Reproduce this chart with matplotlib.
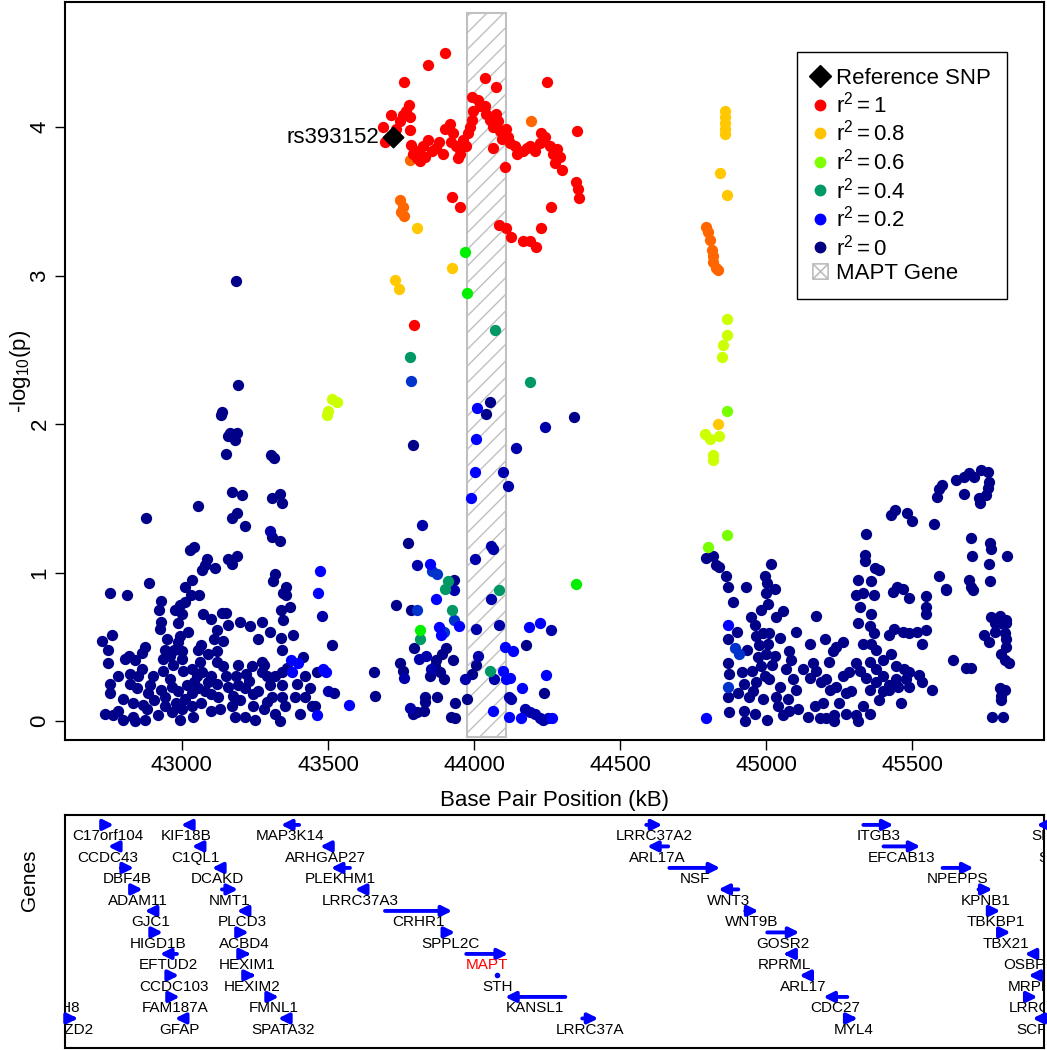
import matplotlib
matplotlib.use("Agg")
import matplotlib.pyplot as plt
from matplotlib.lines import Line2D
from matplotlib.path import Path
from matplotlib.patches import Rectangle

plt.rcParams["font.family"] = ["Liberation Sans", "DejaVu Sans"]
plt.rcParams["mathtext.fontset"] = "custom"
plt.rcParams["mathtext.rm"] = "Liberation Sans"
plt.rcParams["mathtext.it"] = "Liberation Sans:italic"
plt.rcParams["hatch.linewidth"] = 1.0

# ---- SNPs: (position kB, -log10 p) grouped by LD colour ----
NAVY = [
    (43185, 2.96), (43193, 2.26), (43136, 2.08), (43133, 2.06), (43164, 1.94), (43187, 1.94),
    (43158, 1.92), (43181, 1.89), (43150, 1.80), (43304, 1.79), (43315, 1.77), (43170, 1.54),
    (43204, 1.52), (43309, 1.50), (43335, 1.53), (43342, 1.47), (43056, 1.45), (42876, 1.37),
    (43187, 1.40), (43170, 1.37), (43215, 1.31), (43307, 1.24), (43336, 1.21), (43027, 1.15),
    (43041, 1.17), (43087, 1.09), (43158, 1.09), (43188, 1.11),
    (43079, 1.05), (43113, 1.03), (43070, 1.02), (43170, 1.06), (43320, 0.99), (43312, 0.94),
    (43357, 0.90), (43346, 0.86), (43357, 0.85), (42754, 0.86), (42813, 0.85), (42887, 0.93),
    (43035, 0.95), (43010, 0.90), (43031, 0.85), (43059, 0.85), (42928, 0.81), (42993, 0.78),
    (43010, 0.80), (42921, 0.75), (42976, 0.75), (42999, 0.72), (43071, 0.72), (43101, 0.69),
    (43136, 0.73), (43150, 0.73), (43339, 0.75), (43369, 0.77), (43346, 0.68), (42930, 0.67),
    (42987, 0.66), (42925, 0.62), (43158, 0.65), (43198, 0.67), (43233, 0.64), (43275, 0.67),
    (43121, 0.61), (42760, 0.58), (42727, 0.54), (42746, 0.48), (42993, 0.57), (42987, 0.53),
    (43141, 0.54), (43339, 0.56), (43515, 0.51), (43065, 0.51), (43056, 0.48), (42873, 0.50),
    (42862, 0.46), (42942, 0.48), (42974, 0.48), (42999, 0.47), (43119, 0.47), (43341, 0.48),
    (42819, 0.44), (42804, 0.42), (42839, 0.41), (42746, 0.39), (42936, 0.42), (42959, 0.44),
    (43062, 0.40), (43119, 0.40), (43415, 0.43), (43273, 0.40), (43281, 0.38), (42862, 0.35),
    (42824, 0.32), (42936, 0.34), (43005, 0.34), (43033, 0.35), (43101, 0.30), (43141, 0.37),
    (43193, 0.38), (43221, 0.32), (43273, 0.33), (43343, 0.33), (43461, 0.33), (42754, 0.25),
    (42754, 0.19), (42822, 0.25), (42845, 0.22), (42891, 0.24), (42885, 0.19), (42930, 0.21),
    (42942, 0.16), (42965, 0.23), (42987, 0.20), (43016, 0.24), (43033, 0.19), (43056, 0.22),
    (43079, 0.20), (43101, 0.18), (43124, 0.16), (43158, 0.23), (43193, 0.24), (43215, 0.22),
    (43244, 0.18), (43301, 0.24), (43341, 0.24), (43307, 0.16), (43341, 0.16), (43386, 0.16),
    (43421, 0.16), (43438, 0.22), (43455, 0.10), (43521, 0.19), (42737, 0.05), (42765, 0.04),
    (42782, 0.07), (42799, 0.01), (42834, 0.03), (42839, 0.00), (42873, 0.01), (42834, 0.12),
    (42868, 0.11), (42919, 0.04), (42942, 0.10), (42965, 0.06), (42993, 0.01), (43033, 0.10),
    (43039, 0.03), (43067, 0.12), (43170, 0.10), (43181, 0.03), (43215, 0.03), (43250, 0.01),
    (43244, 0.10), (43290, 0.13), (43318, 0.05), (43335, 0.00), (43352, 0.10), (43404, 0.05),
    (43444, 0.10), (42960, 0.28), (42980, 0.12), (43010, 0.15), (43050, 0.30), (43090, 0.26),
    (43130, 0.08), (43150, 0.30), (43200, 0.14), (43230, 0.27), (43260, 0.20), (43280, 0.08),
    (43320, 0.30), (43360, 0.36), (42900, 0.30), (42880, 0.08), (42800, 0.15), (42780, 0.30),
    (42950, 0.55), (43020, 0.60), (43090, 0.45), (43110, 0.55), (43260, 0.55), (43300, 0.60),
    (43380, 0.58), (43420, 0.30), (42970, 0.38), (43000, 0.42), (43040, 0.26), (43070, 0.33),
    (43120, 0.25), (43175, 0.17), (43185, 0.30), (43240, 0.37), (42905, 0.14), (42850, 0.30),
    (43290, 0.30), (43395, 0.25), (43000, 0.08), (43100, 0.07),
    # middle
    (44056, 2.15), (44042, 2.07), (44341, 2.05), (43790, 1.86), (43774, 1.20), (43931, 0.95),
    (43734, 0.78), (43783, 0.75), (43793, 0.49), (43905, 0.49), (43891, 0.45), (43928, 0.41),
    (43746, 0.39), (43757, 0.34), (43657, 0.33), (43871, 0.41), (43865, 0.37), (43882, 0.33),
    (43848, 0.30), (43896, 0.28), (44178, 0.51), (44005, 0.38), (43993, 0.32), (44239, 0.19),
    (43662, 0.17), (43831, 0.16), (43873, 0.16), (43831, 0.13), (43975, 0.15), (43936, 0.12),
    (43791, 0.05), (43828, 0.07), (43803, 0.06), (43922, 0.03), (43934, 0.02),
    # right
    (44792, 1.10), (44817, 1.11), (44829, 1.05), (44837, 1.04), (44862, 0.98), (44868, 0.90),
    (45016, 1.06), (44995, 0.98), (45002, 0.93), (45028, 0.89), (45342, 1.26), (45338, 1.12),
    (45339, 1.08), (45372, 1.03), (45387, 1.02), (45313, 0.95), (45358, 0.94), (45425, 1.39),
    (45441, 1.42), (45481, 1.40), (45499, 1.35), (45575, 1.33), (45583, 1.51), (45590, 1.56),
    (45600, 1.59), (45649, 1.62), (45678, 1.64), (45695, 1.67), (45712, 1.64), (45675, 1.53),
    (45735, 1.69), (45758, 1.68), (45763, 1.61), (45758, 1.57), (45752, 1.52), (45727, 1.50),
    (45732, 1.47), (45701, 1.23), (45767, 1.20), (45769, 1.16), (45703, 1.11), (45823, 1.11),
    (45763, 1.06), (45590, 0.98), (45694, 0.95), (45701, 0.90), (45767, 0.94), (45615, 0.89),
    (45446, 0.90), (45469, 0.89),
    (44868, 0.55), (44868, 0.39), (44872, 0.32), (44868, 0.16), (44872, 0.06), (44946, 0.70),
    (44960, 0.65), (44983, 0.75), (45006, 0.79), (45000, 0.86), (45032, 0.70), (45057, 0.74),
    (44965, 0.57), (44988, 0.59), (45010, 0.59), (45045, 0.56), (44976, 0.51), (45005, 0.52),
    (44970, 0.43), (45000, 0.45), (45028, 0.44), (45079, 0.47), (45100, 0.60), (44917, 0.33),
    (44951, 0.34), (44980, 0.37), (45020, 0.38), (45066, 0.35), (45083, 0.41), (44922, 0.25),
    (44965, 0.26), (45010, 0.28), (45045, 0.23), (45102, 0.21), (44902, 0.19), (44942, 0.16),
    (44988, 0.15), (45034, 0.16), (45074, 0.15), (44922, 0.07), (44962, 0.05), (44928, 0.00),
    (45002, 0.01), (45057, 0.04), (45079, 0.07), (45107, 0.08), (45171, 0.71), (45150, 0.52),
    (45201, 0.55), (45239, 0.50), (45262, 0.53), (45228, 0.47), (45159, 0.39), (45171, 0.34),
    (45188, 0.26), (45148, 0.29), (45205, 0.28), (45217, 0.21), (45239, 0.23), (45262, 0.30),
    (45273, 0.19), (45142, 0.03), (45165, 0.10), (45194, 0.12), (45182, 0.02), (45205, 0.02),
    (45233, 0.04), (45233, 0.00), (45273, 0.05), (45307, 0.04), (45330, 0.10), (45353, 0.05),
    (45313, 0.00), (45307, 0.85), (45319, 0.77), (45313, 0.66), (45358, 0.72), (45370, 0.85),
    (45330, 0.86), (45353, 0.64), (45370, 0.59), (45330, 0.52), (45358, 0.52), (45376, 0.48),
    (45307, 0.39), (45284, 0.33), (45319, 0.34), (45353, 0.40), (45376, 0.35), (45399, 0.41),
    (45342, 0.29), (45376, 0.26), (45399, 0.30), (45421, 0.24), (45444, 0.28), (45478, 0.28),
    (45353, 0.21), (45387, 0.14), (45421, 0.21), (45449, 0.23), (45489, 0.23), (45534, 0.26),
    (45568, 0.21), (45427, 0.45), (45444, 0.37), (45472, 0.35), (45489, 0.33), (45524, 0.31),
    (45421, 0.58), (45438, 0.62), (45469, 0.60), (45489, 0.59), (45517, 0.60), (45546, 0.61),
    (45534, 0.52), (45546, 0.72), (45546, 0.77), (45546, 0.84), (45489, 0.83), (45434, 0.87),
    (45615, 0.88), (45707, 0.88), (45638, 0.41), (45684, 0.36), (45701, 0.36), (45769, 0.70),
    (45798, 0.71), (45820, 0.68), (45781, 0.66), (45804, 0.66), (45821, 0.66), (45746, 0.58),
    (45763, 0.53), (45781, 0.60), (45815, 0.59), (45820, 0.55), (45821, 0.50), (45804, 0.45),
    (45815, 0.41), (45832, 0.39), (45798, 0.22), (45815, 0.21), (45804, 0.17), (45804, 0.14),
    (45772, 0.03), (45811, 0.03), (44900, 0.60), (44935, 0.48), (44955, 0.20), (44995, 0.30),
    (45040, 0.10), (45090, 0.28), (45125, 0.35), (45215, 0.40), (45250, 0.12), (45290, 0.20),
    (45400, 0.20), (45460, 0.12), (44885, 0.80), (44930, 0.90),
]
DARKBLUE = [
    (44244, 1.98), (44142, 1.84), (44100, 1.68), (44115, 1.58), (43823, 1.32), (44059, 1.18),
    (44065, 1.16), (44003, 1.09), (43803, 1.05), (43931, 0.88), (44059, 0.82), (44005, 0.62),
    (44084, 0.65), (44263, 0.61), (43837, 0.44), (43812, 0.42), (43759, 0.29), (43854, 0.35),
    (44013, 0.44), (43968, 0.28), (44068, 0.28), (44118, 0.16), (44127, 0.15), (43780, 0.09),
    (44173, 0.08), (44190, 0.06), (44207, 0.05), (44224, 0.02), (44236, 0.01), (44253, 0.02),
    (43478, 0.71), (43303, 1.28), (43500, 0.20),
]
BLUE = [
    (44009, 2.11), (44007, 1.90), (44003, 1.68), (43988, 1.50), (43848, 1.06), (43871, 0.82),
    (43947, 0.64), (43880, 0.63), (43888, 0.58), (44188, 0.63), (44224, 0.66), (44106, 0.50),
    (44133, 0.47), (44099, 0.34), (44110, 0.28), (44124, 0.29), (44247, 0.31), (44165, 0.22),
    (44066, 0.07), (44120, 0.03), (44161, 0.02), (44267, 0.02), (43472, 1.01), (43466, 0.86),
    (43372, 0.41), (43398, 0.39), (43378, 0.33), (43483, 0.35), (43494, 0.33), (43571, 0.11),
    (44868, 0.65), (44794, 0.02), (43461, 0.04),
]
MIDBLUE = [
    (43783, 2.29), (43857, 1.01), (43873, 0.99), (43806, 0.75), (43931, 0.68), (43896, 0.60),
    (44868, 0.23), (44891, 0.49), (44908, 0.45),
]
TEAL = [
    (44073, 2.63), (43782, 2.45), (44190, 2.28), (43911, 0.94), (43902, 0.89), (44085, 0.88),
    (43924, 0.75), (43814, 0.55), (44056, 0.34),
]
GREEN = [(43969, 3.16), (43975, 2.88), (44347, 0.92), (43814, 0.61)]
CHARTREUSE = [(44865, 1.25), (44800, 1.17), (44867, 2.09)]
LIME = [
    (43515, 2.17), (43531, 2.15), (43500, 2.09), (43498, 2.06), (44789, 1.93), (44808, 1.90),
    (44837, 1.92), (44819, 1.79), (44819, 1.76), (44864, 2.71), (44864, 2.60), (44853, 2.53),
    (44847, 2.45),
]
YELLOW = [
    (44860, 4.11), (44860, 4.07), (44860, 4.03), (44860, 3.99), (44857, 3.95), (44840, 3.69),
    (44867, 3.54), (44833, 2.00), (43805, 3.32), (43925, 3.05), (43729, 2.97), (43742, 2.91),
]
ORANGE = [
    (44792, 3.33), (44799, 3.29), (44806, 3.24), (44813, 3.17), (44816, 3.13), (44819, 3.09),
    (44826, 3.05), (44833, 3.04), (43780, 3.78), (44194, 4.04), (43748, 3.51), (43755, 3.46),
    (43760, 3.40), (43750, 3.43),
]
RED = [
    (43902, 4.50), (43841, 4.42), (43760, 4.30), (44037, 4.33), (44075, 4.27), (44250, 4.30),
    (43778, 4.15), (43768, 4.11), (43757, 4.08), (43714, 4.08), (43745, 4.04), (43780, 4.07),
    (43734, 3.99), (43689, 4.00), (43694, 3.90), (43780, 3.98), (43785, 3.88), (43791, 3.82),
    (43803, 3.79), (43814, 3.77), (43831, 3.80), (43825, 3.87), (43842, 3.91), (43857, 3.84),
    (43894, 3.82), (43899, 3.99), (43916, 4.02), (43928, 3.96), (43922, 3.90), (43939, 3.87),
    (43951, 3.82), (43945, 3.79), (43962, 3.91), (43979, 3.96), (43973, 3.87), (43993, 4.05),
    (43996, 4.11), (43991, 4.20), (44013, 4.18), (44019, 4.14), (44036, 4.14), (44042, 4.09),
    (44053, 4.05), (44065, 4.00), (44076, 4.09), (44082, 4.04), (44088, 3.97), (44110, 3.99),
    (44116, 3.93), (44122, 3.89), (44139, 3.87), (44145, 3.82), (44167, 3.84), (44190, 3.87),
    (44207, 3.84), (44224, 3.89), (44230, 3.96), (44241, 3.93), (44259, 3.87), (44270, 3.82),
    (44293, 3.80), (44276, 3.76), (44299, 3.71), (44353, 3.97), (44350, 3.63), (44356, 3.58),
    (44358, 3.52), (44065, 3.86), (44104, 3.73), (43925, 3.53), (43953, 3.46), (44262, 3.46),
    (44085, 3.34), (44110, 3.32), (44127, 3.26), (44167, 3.23), (44190, 3.23), (44211, 3.19),
    (44230, 3.32), (43794, 2.67), (43808, 3.84), (43870, 3.86), (43880, 3.90), (43985, 4.00),
    (44095, 3.92), (44180, 3.86), (44285, 3.85),
]
REF_SNP = (43722, 3.93)
REF_NAME = "rs393152"
MAPT_SPAN = (43975, 44108)

# groups drawn from weakest to strongest LD
GROUPS = [
    (NAVY, "#000088"), (DARKBLUE, "#0000AA"), (MIDBLUE, "#0033CC"), (BLUE, "#0000FF"),
    (TEAL, "#009966"), (GREEN, "#00F000"), (CHARTREUSE, "#77FF00"), (LIME, "#CCFF00"),
    (YELLOW, "#FFC800"), (ORANGE, "#FF6600"), (RED, "#FF0000"),
]

LEGEND_LABELS = ["1", "0.8", "0.6", "0.4", "0.2", "0"]
LEGEND_COLORS = ["#FF0000", "#FFC200", "#80FF00", "#009966", "#0000FF", "#000080"]

# ---- genes: name, start kB, end kB, strand, row ----
GENES = [
    ("C17orf104", 42726, 42767, "+", 0), ("KIF18B", 42997, 43031, "-", 0),
    ("MAP3K14", 43339, 43401, "-", 0), ("LRRC37A2", 44589, 44644, "+", 0),
    ("ITGB3", 45332, 45435, "+", 0), ("SP6", 45925, 45956, "-", 0),
    ("CCDC43", 42747, 42781, "-", 1), ("C1QL1", 43034, 43068, "-", 1),
    ("ARHGAP27", 43473, 43507, "-", 1), ("ARL17A", 44592, 44664, "-", 1),
    ("EFCAB13", 45401, 45527, "+", 1), ("SP2", 46000, 46040, "+", 1),
    ("DBF4B", 42791, 42836, "+", 2), ("DCAKD", 43103, 43140, "-", 2),
    ("PLEKHM1", 43510, 43575, "-", 2), ("NSF", 44668, 44842, "+", 2),
    ("NPEPPS", 45603, 45709, "+", 2),
    ("ADAM11", 42832, 42866, "+", 3), ("NMT1", 43137, 43192, "+", 3),
    ("LRRC37A3", 43592, 43627, "-", 3), ("WNT3", 44836, 44904, "-", 3),
    ("KPNB1", 45726, 45774, "+", 3),
    ("GJC1", 42873, 42914, "-", 4), ("PLCD3", 43188, 43223, "-", 4),
    ("CRHR1", 43695, 43925, "+", 4), ("WNT9B", 44928, 44973, "+", 4),
    ("TBKBP1", 45767, 45801, "+", 4),
    ("HIGD1B", 42904, 42935, "+", 5), ("ACBD4", 43199, 43229, "+", 5),
    ("SPPL2C", 43904, 43935, "+", 5), ("GOSR2", 45003, 45113, "+", 5),
    ("TBX21", 45801, 45836, "+", 5),
    ("EFTUD2", 42925, 42983, "-", 6), ("HEXIM1", 43209, 43236, "+", 6),
    ("MAPT", 43973, 44116, "+", 6), ("RPRML", 45058, 45086, "-", 6),
    ("OSBPL7", 45884, 45918, "-", 6),
    ("CCDC103", 42959, 42990, "+", 7), ("HEXIM2", 43226, 43253, "+", 7),
    ("STH", 44078, 44080, "+", 7), ("ARL17", 45113, 45147, "-", 7),
    ("MRPL10", 45897, 45928, "-", 7),
    ("GPATCH8", 42480, 42560, "-", 8), ("FAM187A", 42962, 42993, "+", 8),
    ("FMNL1", 43295, 43332, "+", 8), ("KANSL1", 44106, 44312, "-", 8),
    ("CDC27", 45195, 45277, "-", 8), ("LRRC46", 45894, 45928, "+", 8),
    ("FZD2", 42616, 42644, "+", 9), ("GFAP", 42976, 43010, "-", 9),
    ("SPATA32", 43329, 43363, "-", 9), ("LRRC37A", 44370, 44425, "+", 9),
    ("MYL4", 45284, 45312, "+", 9), ("SCRN2", 45911, 45945, "-", 9),
]
# label centre where it is not the middle of the gene
LABEL_X = {"C17orf104": 42747, "CCDC43": 42747, "C1QL1": 43045, "LRRC37A3": 43610,
           "CRHR1": 43808, "KANSL1": 44209, "SP6": 45956, "SP2": 45979, "GPATCH8": 42531,
           "FZD2": 42634, "OSBPL7": 45911, "MRPL10": 45928, "LRRC46": 45928, "SCRN2": 45945,
           "RPRML": 45062, "ARL17": 45127, "MYL4": 45298, "GFAP": 42990}

XLIM = (42600, 45950)

fig = plt.figure(figsize=(10.47, 10.5), dpi=100)
ax = fig.add_axes([0.0621, 0.2952, 0.935, 0.7029])
gax = fig.add_axes([0.0621, 0.002, 0.935, 0.2219])

ax.add_patch(Rectangle((MAPT_SPAN[0], -0.11), MAPT_SPAN[1] - MAPT_SPAN[0], 4.88,
                       facecolor="white", edgecolor="#c0c0c0", hatch="//", lw=1.5, zorder=1))
for pts, col in GROUPS:
    xs, ys = zip(*pts)
    ax.scatter(xs, ys, s=66, color=col, linewidths=0, zorder=2)
ax.scatter([REF_SNP[0]], [REF_SNP[1]], marker="D", s=110, color="black", zorder=4)
ax.text(REF_SNP[0] - 48, REF_SNP[1], REF_NAME, ha="right", va="center", fontsize=16, zorder=4)

ax.set_xlim(*XLIM)
ax.set_ylim(-0.128, 4.842)
ax.set_xticks([43000, 43500, 44000, 44500, 45000, 45500])
ax.set_yticks([0, 1, 2, 3, 4])
ax.tick_params(labelsize=16, length=7, width=1)
for lab in ax.get_yticklabels():
    lab.set_rotation(90)
    lab.set_va("center")
ax.set_xlabel("Base Pair Position (kB)", fontsize=16, labelpad=10)
ax.set_ylabel("-log$_{10}$(p)", fontsize=16)
ax.yaxis.set_label_coords(-0.033, 0.5)
for sp in ax.spines.values():
    sp.set_linewidth(1.5)

box_x = Path([(-1, -1), (1, -1), (1, 1), (-1, 1), (-1, -1), (-1, -1), (1, 1), (-1, 1), (1, -1)],
             [Path.MOVETO, Path.LINETO, Path.LINETO, Path.LINETO, Path.CLOSEPOLY,
              Path.MOVETO, Path.LINETO, Path.MOVETO, Path.LINETO])
handles = [Line2D([], [], ls="", marker="D", ms=11, color="black")]
labels = ["Reference SNP"]
for lab, col in zip(LEGEND_LABELS, LEGEND_COLORS):
    handles.append(Line2D([], [], ls="", marker="o", ms=7.5, color=col))
    labels.append(r"$\mathregular{r^2 = %s}$" % lab)
handles.append(Line2D([], [], ls="", marker=box_x, ms=11, mfc="none", mec="#bdbdbd", mew=1.2))
labels.append("MAPT Gene")
leg = ax.legend(handles, labels, loc="upper right", bbox_to_anchor=(0.962, 0.932),
                borderaxespad=0, fontsize=16, frameon=True, fancybox=False,
                edgecolor="black", framealpha=1, handlelength=0.6, handletextpad=0.45,
                labelspacing=0.12, borderpad=0.7)
leg.get_frame().set_linewidth(1.0)

# gene track
for name, start, end, strand, row in GENES:
    y = -row
    if name == "STH":
        gax.plot([start], [y], "o", ms=3, color="blue")
    else:
        tail, head = (start, end) if strand == "+" else (end, start)
        gax.annotate("", xy=(head, y), xytext=(tail, y), annotation_clip=True,
                     arrowprops=dict(arrowstyle="-|>,head_length=0.6,head_width=0.3",
                                     color="blue", lw=2.8, mutation_scale=10,
                                     shrinkA=0, shrinkB=0))
    lx = LABEL_X.get(name, (start + end) / 2)
    gax.text(lx, y - 0.52, name, ha="center", va="center", fontsize=11,
             color="red" if name == "MAPT" else "black", clip_on=True)
gax.set_xlim(*XLIM)
gax.set_ylim(-10.37, 0.465)
gax.set_xticks([])
gax.set_yticks([])
gax.set_ylabel("Genes", fontsize=15)
gax.yaxis.set_label_coords(-0.027, 0.72)
for sp in gax.spines.values():
    sp.set_linewidth(1.5)

fig.savefig("out.png", dpi=100)
